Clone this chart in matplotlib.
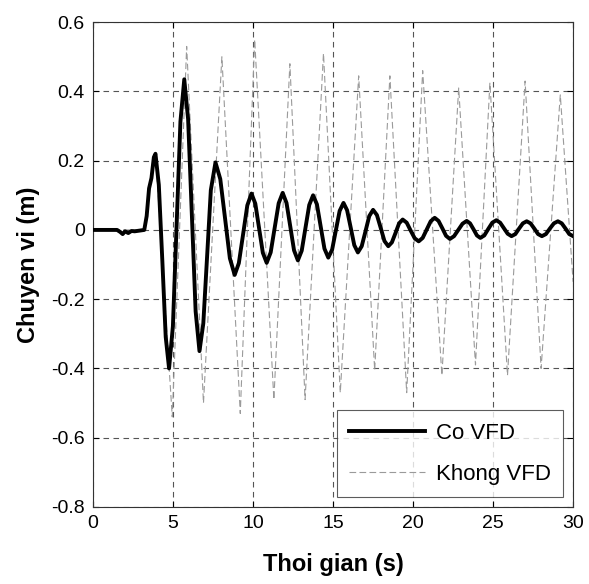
import matplotlib
matplotlib.use("Agg")
import matplotlib.pyplot as plt

# ---- data ----
t_co = [0, 1.5, 1.7, 1.85, 2.0, 2.2, 2.4, 2.6, 3.2, 3.35, 3.5, 3.65, 3.8, 3.9,
        4.11, 4.33, 4.54, 4.75,
        4.99, 5.225, 5.46, 5.7,
        5.94, 6.175, 6.41, 6.65,
        6.89, 7.125, 7.36, 7.65,
        7.95, 8.25, 8.55, 8.85,
        9.11, 9.375, 9.64, 9.9,
        10.14, 10.375, 10.61, 10.85,
        11.1, 11.35, 11.6, 11.85,
        12.09, 12.325, 12.56, 12.8,
        13.04, 13.275, 13.51, 13.75,
        13.99, 14.225, 14.46, 14.7,
        14.94, 15.175, 15.41, 15.65,
        15.875, 16.1, 16.325, 16.55,
        16.79, 17.025, 17.26, 17.5,
        17.74, 17.975, 18.21, 18.45,
        18.675, 18.9, 19.125, 19.35,
        19.6, 19.85, 20.1, 20.35,
        20.6, 20.85, 21.1, 21.35,
        21.59, 21.825, 22.06, 22.3,
        22.56, 22.825, 23.09, 23.35,
        23.56, 23.775, 23.99, 24.2,
        24.45, 24.7, 24.95, 25.2,
        25.44, 25.675, 25.91, 26.15,
        26.39, 26.625, 26.86, 27.1,
        27.34, 27.575, 27.81, 28.05,
        28.3, 28.55, 28.8, 29.05,
        29.29, 29.525, 29.76, 30.0]
y_co = [0, 0, -0.006, -0.012, -0.004, -0.009, -0.003, -0.004, 0.0, 0.04, 0.12, 0.15, 0.21, 0.22,
        0.13, -0.09, -0.309, -0.40,
        -0.278, 0.018, 0.313, 0.435,
        0.32, 0.043, -0.235, -0.35,
        -0.27, -0.078, 0.115, 0.195,
        0.147, 0.033, -0.082, -0.13,
        -0.096, -0.013, 0.071, 0.105,
        0.076, 0.005, -0.066, -0.095,
        -0.065, 0.006, 0.077, 0.107,
        0.078, 0.010, -0.059, -0.088,
        -0.060, 0.006, 0.072, 0.100,
        0.074, 0.010, -0.054, -0.080,
        -0.057, -0.001, 0.055, 0.078,
        0.057, 0.007, -0.044, -0.065,
        -0.047, -0.004, 0.040, 0.058,
        0.043, 0.006, -0.032, -0.047,
        -0.036, -0.009, 0.019, 0.030,
        0.021, -0.002, -0.024, -0.033,
        -0.023, 0.001, 0.025, 0.035,
        0.026, 0.005, -0.017, -0.026,
        -0.018, 0.0, 0.018, 0.026,
        0.019, 0.002, -0.016, -0.023,
        -0.016, 0.003, 0.021, 0.028,
        0.021, 0.005, -0.011, -0.018,
        -0.012, 0.004, 0.019, 0.025,
        0.019, 0.004, -0.012, -0.018,
        -0.012, 0.004, 0.019, 0.025,
        0.019, 0.004, -0.012, -0.018]

t_khong = [0, 3.2, 3.5, 3.9, 4.95, 5.85, 6.9, 8.05, 9.2, 10.1, 11.3, 12.3, 13.25, 14.4,
           15.45, 16.6, 17.6, 18.55, 19.6, 20.6, 21.8, 22.85, 23.9, 24.8, 25.9, 27.0,
           28.0, 29.2, 30.0]
y_khong = [0, 0, 0.12, 0.22, -0.54, 0.53, -0.50, 0.50, -0.53, 0.55, -0.49, 0.48, -0.49, 0.51,
           -0.47, 0.445, -0.405, 0.445, -0.47, 0.46, -0.42, 0.41, -0.39, 0.425, -0.42, 0.43,
           -0.40, 0.39, -0.15]

x_ticks = [0, 5, 10, 15, 20, 25, 30]
y_ticks = [-0.8, -0.6, -0.4, -0.2, 0, 0.2, 0.4, 0.6]
y_tick_labels = ["-0.8", "-0.6", "-0.4", "-0.2", "0", "0.2", "0.4", "0.6"]

plt.rcParams['font.family'] = ['Liberation Sans', 'DejaVu Sans']

fig = plt.figure(figsize=(5.89, 5.84), dpi=100)
ax = fig.add_axes([0.158, 0.132, 0.815, 0.830])

ax.plot(t_khong, y_khong, color='#9a9a9a', lw=0.8, ls=(0, (6, 3)), label='Khong VFD', zorder=2)
ax.plot(t_co, y_co, color='black', lw=2.8, label='Co VFD', zorder=3)

ax.set_xlim(0, 30)
ax.set_ylim(-0.8, 0.6)
ax.set_xticks(x_ticks)
ax.set_yticks(y_ticks)
ax.set_yticklabels(y_tick_labels)
ax.tick_params(direction='in', labelsize=14, length=4, width=0.8, top=True, right=True, pad=6)
ax.grid(True, color='#555555', ls=(0, (5, 4)), lw=0.8)
for s in ax.spines.values():
    s.set_linewidth(0.8)
    s.set_color('#333333')

ax.set_xlabel('Thoi gian (s)', fontsize=17, fontweight='bold', labelpad=15)
ax.set_ylabel('Chuyen vi (m)', fontsize=17, fontweight='bold', labelpad=8)

h, l = ax.get_legend_handles_labels()
leg = ax.legend([h[1], h[0]], [l[1], l[0]], loc='lower right', fontsize=16, frameon=True,
                fancybox=False, edgecolor='#333333', handlelength=3.4, handletextpad=0.5,
                labelspacing=0.9, borderpad=0.55, borderaxespad=0.45)
leg.get_frame().set_linewidth(0.8)

fig.savefig('out.png', dpi=100, facecolor='white')
